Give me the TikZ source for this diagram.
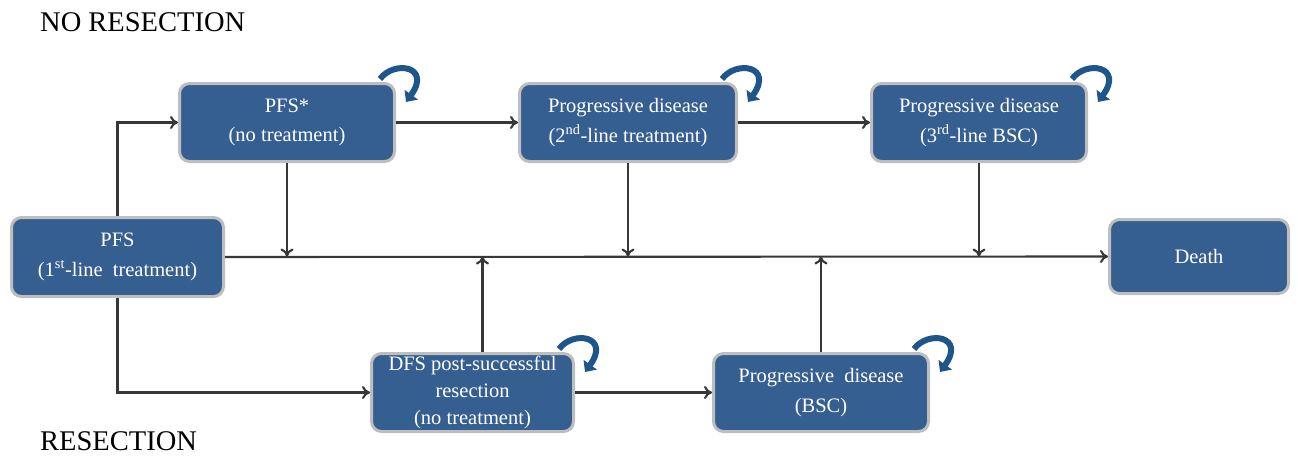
\documentclass[tikz,border=0pt]{standalone}
\usepackage{fontspec}
\setmainfont{Liberation Serif}
\usetikzlibrary{arrows.meta,calc}
\definecolor{boxblue}{RGB}{53,94,145}
\definecolor{boxgrey}{RGB}{190,190,190}
\definecolor{loopblue}{RGB}{30,86,140}
\definecolor{linegrey}{RGB}{55,55,55}
\tikzset{
  state/.style={rectangle, rounded corners=10pt, fill=boxblue, draw=boxgrey, line width=3pt,
    text=white, align=center, inner sep=2pt, font=\fontsize{20.5}{29.5}\selectfont},
  conn/.style={draw=linegrey, line width=2.1pt, -{To[length=8pt,width=13pt]}},
  selfloop/.style={draw=loopblue, line width=6pt, -{Triangle[length=9pt,width=16pt]}},
  title/.style={anchor=west, font=\fontsize{28.5}{32}\selectfont, inner sep=0pt}
}
\newcommand{\selfarrow}[1]{%
  \draw[selfloop] ([shift={(-16,-3)}]#1.north east) .. controls ([shift={(-2,-22)}]#1.north east) and ([shift={(36,-16)}]#1.north east) .. ([shift={(10,20)}]#1.north east);}
\begin{document}
\begin{tikzpicture}[x=1pt,y=-1pt]
\useasboundingbox (0,0) rectangle (1298,455);
\node[title] (t1) at (40,22) {NO RESECTION};
\node[title] (t2) at (40,441) {RESECTION};

\node[state, minimum width=212pt, minimum height=79pt] (pfs1) at (117.5,257) {PFS\\(1\textsuperscript{st}-line\ \ treatment)};
\node[state, minimum width=215pt, minimum height=78pt] (pfss) at (287,122.5) {PFS*\\(no treatment)};
\node[state, minimum width=217pt, minimum height=78pt] (pd2) at (628,122.5) {Progressive\ disease\\(2\textsuperscript{nd}-line\ treatment)};
\node[state, minimum width=215pt, minimum height=78pt] (pd3) at (979,122.5) {Progressive\ disease\\(3\textsuperscript{rd}-line BSC)};
\node[state, minimum width=179pt, minimum height=74pt] (death) at (1199,256.5) {Death};
\node[state, minimum width=202pt, minimum height=78pt, font=\fontsize{20.5}{27}\selectfont] (dfs) at (472.5,392.5) {DFS post-successful\\resection\\(no treatment)};
\node[state, minimum width=215pt, minimum height=78pt] (pdb) at (821,392.5) {Progressive\ \ disease\\(BSC)};

\draw[conn] (pfs1.east) -- (death.west);
\draw[conn] (pfs1.north) |- (pfss.west);
\draw[conn] (pfs1.south) |- (dfs.west);
\draw[conn] (pfss) -- (pd2);
\draw[conn] (pd2) -- (pd3);
\draw[conn] (dfs) -- (pdb);
\draw[conn] (pfss.south) -- (pfss.south |- death.west);
\draw[conn] (pd2.south) -- (pd2.south |- death.west);
\draw[conn] (pd3.south) -- (pd3.south |- death.west);
\draw[conn] ([xshift=10pt]dfs.north) -- ([xshift=10pt]dfs.north |- death.west);
\draw[conn] (pdb.north) -- (pdb.north |- death.west);

\selfarrow{pfss}
\selfarrow{pd2}
\selfarrow{pd3}
\selfarrow{dfs}
\selfarrow{pdb}
\end{tikzpicture}
\end{document}
